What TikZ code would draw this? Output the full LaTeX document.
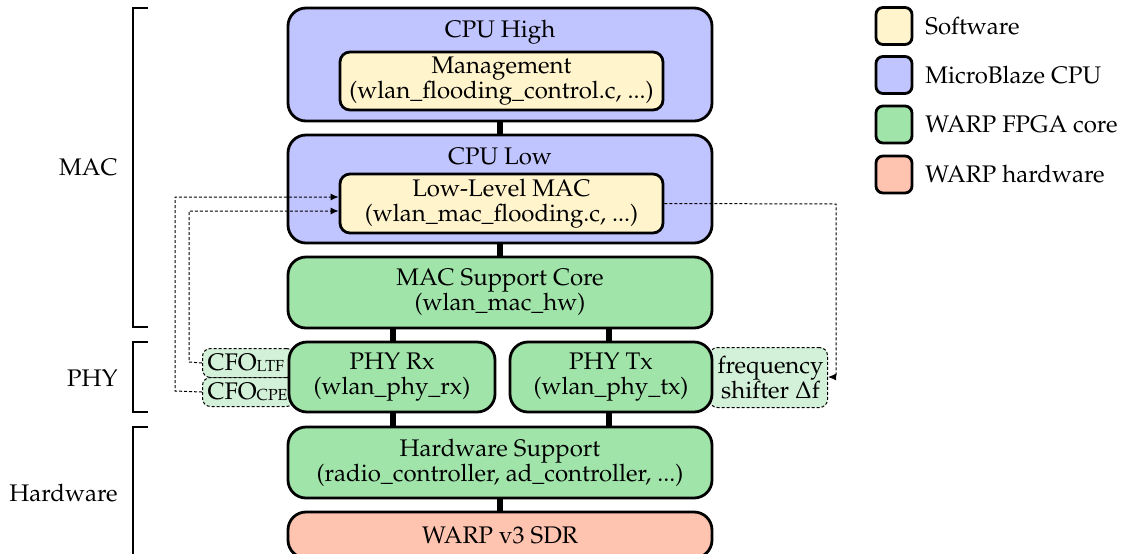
\documentclass[tikz,border=0pt]{standalone}
\usepackage[T1]{fontenc}
\usepackage{mathpazo}
\usetikzlibrary{arrows.meta}
\definecolor{swcol}{HTML}{FFF4CC}
\definecolor{cpucol}{HTML}{C0C4FF}
\definecolor{fpgacol}{HTML}{A0E4AA}
\definecolor{hwcol}{HTML}{FFC4B0}
\definecolor{extcol}{HTML}{D3F0D8}
\newcommand{\subsc}[1]{\raisebox{-0.6pt}{\fontsize{8}{8}\selectfont #1}}
\tikzset{
  base/.style={draw=black, line width=1.4pt, align=center, inner sep=0pt,
    font=\fontsize{12}{12.5}\selectfont},
  cpubox/.style={base, fill=cpucol, rounded corners=9pt},
  swbox/.style={base, fill=swcol, rounded corners=5pt},
  fpgabox/.style={base, fill=fpgacol, rounded corners=9pt},
  hwbox/.style={base, fill=hwcol, rounded corners=9pt},
  extbox/.style={draw=black, dash pattern=on 1.5pt off 1pt, line width=0.5pt, fill=extcol, rounded corners=4pt,
    inner sep=0pt, align=center, font=\fontsize{12}{12.5}\selectfont},
  txt/.style={inner sep=0pt, align=center, font=\fontsize{12}{12.5}\selectfont},
  legbox/.style={draw=black, line width=1.4pt, rounded corners=3.5pt, minimum width=18pt, minimum height=18.5pt, inner sep=0pt},
  link/.style={line width=2.6pt},
  sig/.style={dash pattern=on 1.5pt off 1pt, line width=0.5pt, -{Latex[length=4pt,width=3.5pt]}},
  brace/.style={line width=1pt},
}
\begin{document}
\begin{tikzpicture}[x=0.5pt,y=-0.5pt]
\useasboundingbox (0,0) rectangle (1125,553);
% side boxes (behind)
\node[extbox, minimum width=46pt, minimum height=14.5pt, anchor=north west, text width=46pt, align=left] (cfoltf) at (202,348) {\hspace{2.5pt}CFO\subsc{LTF}};
\node[extbox, minimum width=46pt, minimum height=14.5pt, anchor=north west, text width=46pt, align=left] (cfocpe) at (202,377) {\hspace{2.5pt}CFO\subsc{CPE}};
\node[extbox, minimum width=59pt, minimum height=30pt, anchor=north west] (fshift) at (709,347) {\hspace{2pt}frequency\\ \hspace{2pt}shifter $\Delta$f};
% links
\draw[link] (500,120) -- (500,137);
\draw[link] (500,242) -- (500,258);
\draw[link] (393,327) -- (393,343);
\draw[link] (609,327) -- (609,343);
\draw[link] (393,411) -- (393,428);
\draw[link] (609,411) -- (609,428);
\draw[link] (500,497) -- (500,513);
% main boxes
\node[cpubox, minimum width=212pt, minimum height=56.5pt] (cpuhigh) at (500,64.5) {};
\node[txt] (cpuhight) at (500,32) {CPU High};
\node[swbox, minimum width=161.5pt, minimum height=29pt] (mgmt) at (501.5,81) {Management\\(wlan\_flooding\_control.c, ...)};
\node[cpubox, minimum width=212pt, minimum height=54pt] (cpulow) at (500,189) {};
\node[txt] (cpulowt) at (500,156) {CPU Low};
\node[swbox, minimum width=161.5pt, minimum height=29.5pt] (llmac) at (501.5,203.5) {Low-Level MAC\\(wlan\_mac\_flooding.c, ...)};
\node[fpgabox, minimum width=212pt, minimum height=35.5pt] (macsup) at (500,292.5) {MAC Support Core\\(wlan\_mac\_hw)};
\node[fpgabox, minimum width=103pt, minimum height=35pt] (phyrx) at (392,377) {PHY Rx\\(wlan\_phy\_rx)};
\node[fpgabox, minimum width=101pt, minimum height=35pt] (phytx) at (611,377) {PHY Tx\\(wlan\_phy\_tx)};
\node[fpgabox, minimum width=212pt, minimum height=35.5pt] (hwsup) at (500,462.5) {Hardware Support\\(radio\_controller, ad\_controller, ...)};
\node[hwbox, minimum width=212pt, minimum height=23pt] (warp) at (500,535) {WARP v3 SDR};
% signal connectors
\coordinate (a1) at (175,391);
\coordinate (a2) at (175,197);
\coordinate (b1) at (189,362);
\coordinate (b2) at (189,211);
\coordinate (d1) at (836,204);
\coordinate (d2) at (836,377);
\draw[sig] (cfocpe.west) -- (a1) -- (a2) -- (llmac.west |- a2);
\draw[sig] (cfoltf.west) -- (b1) -- (b2) -- (llmac.west |- b2);
\draw[sig] (llmac.east) -- (d1) -- (d2) -- (fshift.east |- d2);
% brackets
\draw[brace] (148,8) -- (133,8) -- (133,327) -- (148,327);
\draw[brace] (148,342) -- (133,342) -- (133,412) -- (148,412);
\draw[brace] (148,427) -- (133,427) -- (133,560);
\node[txt, anchor=east] (lmac) at (118,167) {MAC};
\node[txt, anchor=east] (lphy) at (118,378) {PHY};
\node[txt, anchor=east] (lhw) at (118,493) {Hardware};
% legend
\node[legbox, fill=swcol] (lg1) at (894,26) {};
\node[legbox, fill=cpucol] (lg2) at (894,75) {};
\node[legbox, fill=fpgacol] (lg3) at (894,124.5) {};
\node[legbox, fill=hwcol] (lg4) at (894,174.5) {};
\node[txt, anchor=west] (lt1) at (925,26) {Software};
\node[txt, anchor=west] (lt2) at (925,75) {MicroBlaze CPU};
\node[txt, anchor=west] (lt3) at (925,124.5) {WARP FPGA core};
\node[txt, anchor=west] (lt4) at (925,174.5) {WARP hardware};
\end{tikzpicture}
\end{document}
